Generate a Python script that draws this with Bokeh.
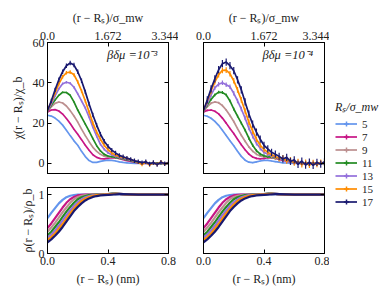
from bokeh.plotting import figure
from bokeh.models import (Range1d, LinearAxis, FixedTicker, Legend, LegendItem,
                          Label, ColumnDataSource, PrintfTickFormatter)
from bokeh.layouts import row, column
from bokeh.embed import file_html
from bokeh.resources import INLINE

# ---------------- data ----------------
sizes = ["5", "7", "9", "11", "13", "15", "17"]
colors = ["#6495ED", "#C71585", "#BC8F8F", "#228B22", "#9370DB", "#FF8C00", "#191970"]

x_chi = [0.0, 0.025, 0.05, 0.075, 0.1, 0.125, 0.15, 0.175, 0.2, 0.225, 0.25, 0.275,
         0.3, 0.325, 0.35, 0.375, 0.4, 0.425, 0.45, 0.475, 0.5, 0.525, 0.55, 0.575,
         0.6, 0.625, 0.65, 0.675, 0.7, 0.725, 0.75, 0.775, 0.8]

# beta*dmu = 1e-3
chi3_5 = [23.9, 23.5, 22.5, 21.0, 19.0, 16.5, 13.8, 11.2, 9.0, 6.0, 3.4, 1.4, 0.5, 0.5, 1.0, 1.4, 1.6, 1.5, 1.2, 0.8, 0.5, 0.3, 0.1, 0.0, 0.0, 0.0, 0.0, 0.0, 0.0, 0.0, 0.0, 0.0, 0.0]
chi3_7 = [25.5, 26.5, 26.7, 26.0, 24.5, 22.3, 19.8, 17.0, 14.5, 11.8, 9.0, 6.5, 4.3, 3.0, 2.4, 2.3, 2.6, 2.9, 2.8, 2.4, 1.9, 1.4, 1.0, 0.6, 0.3, 0.1, 0.0, 0.0, 0.0, 0.0, 0.0, 0.0, 0.0]
chi3_9 = [26.0, 28.0, 29.8, 30.5, 30.0, 28.5, 26.2, 23.5, 20.5, 17.0, 13.8, 10.8, 8.0, 6.0, 4.5, 3.6, 3.2, 3.1, 3.0, 2.7, 2.3, 1.8, 1.3, 0.9, 0.5, 0.3, 0.1, 0.0, 0.0, 0.0, 0.0, 0.0, 0.0]
chi3_11 = [26.0, 28.8, 31.5, 33.8, 35.3, 35.2, 33.8, 30.5, 26.5, 23.0, 19.5, 16.0, 12.3, 8.8, 6.2, 4.5, 3.7, 3.3, 3.0, 2.6, 2.2, 1.8, 1.3, 0.9, 0.5, 0.3, 0.2, 0.1, 0.0, 0.1, 0.0, 0.0, 0.0]
chi3_13 = [26.0, 29.5, 33.5, 37.0, 39.5, 40.3, 39.8, 37.8, 34.5, 31.0, 27.5, 23.0, 18.0, 13.5, 9.5, 7.0, 5.3, 4.3, 3.6, 3.0, 2.6, 2.1, 1.6, 1.1, 0.7, 0.3, 0.5, -0.2, 0.3, -0.3, 0.3, 0.0, 0.1]
chi3_15 = [26.3, 30.5, 35.0, 39.5, 43.0, 45.0, 45.3, 44.0, 40.5, 36.0, 31.0, 25.5, 20.0, 15.5, 12.0, 9.0, 6.8, 5.2, 4.2, 3.5, 3.0, 2.5, 1.8, 1.2, 0.6, -0.5, 0.7, -0.8, 0.4, -0.5, 0.8, -0.4, 0.5]
chi3_17 = [26.3, 31.0, 36.5, 41.5, 45.5, 48.5, 49.8, 48.8, 45.5, 41.0, 35.5, 29.5, 24.0, 19.0, 14.5, 11.0, 8.5, 6.6, 5.2, 4.0, 3.3, 2.6, 2.0, 1.3, 0.9, 0.4, 0.8, -0.3, 0.5, -0.6, 0.6, -0.2, 0.3]
err3 = [0.2, 0.25, 0.3, 0.4, 0.6, 0.9, 1.1]

# beta*dmu = 1e-4
chi4_5 = [23.9, 23.4, 22.4, 20.9, 18.9, 16.5, 13.9, 11.3, 8.8, 6.0, 3.5, 1.6, 0.6, 0.4, 0.8, 1.2, 1.5, 1.5, 1.2, 0.9, 0.6, 0.3, 0.2, 0.1, 0.0, 0.0, 0.0, 0.0, 0.0, 0.0, 0.0, 0.0, 0.0]
chi4_7 = [25.6, 26.3, 26.5, 25.9, 24.6, 22.5, 20.0, 17.3, 14.8, 12.0, 9.3, 6.8, 4.6, 3.2, 2.5, 2.3, 2.5, 2.8, 2.8, 2.5, 2.0, 1.5, 1.1, 0.7, 0.4, 0.2, 0.1, 0.0, 0.0, 0.0, 0.0, 0.0, 0.0]
chi4_9 = [26.0, 28.1, 29.9, 30.5, 30.1, 28.7, 26.5, 23.8, 20.8, 17.3, 14.0, 11.0, 8.2, 6.1, 4.6, 3.7, 3.3, 3.1, 2.9, 2.6, 2.3, 1.9, 1.4, 1.0, 0.6, 0.4, 0.2, 0.1, 0.0, 0.0, 0.0, 0.0, 0.0]
chi4_11 = [26.0, 29.0, 31.8, 34.0, 35.4, 35.2, 34.0, 31.0, 27.0, 23.5, 20.0, 16.5, 12.5, 9.0, 6.3, 4.6, 3.8, 3.4, 3.1, 2.8, 2.3, 1.9, 1.5, 1.0, 0.7, 0.4, 0.3, 0.2, 0.1, 0.0, 0.1, 0.0, 0.0]
chi4_13 = [26.0, 29.8, 34.0, 37.5, 39.3, 40.0, 39.0, 38.0, 34.8, 31.0, 27.0, 22.5, 17.5, 13.5, 10.0, 7.5, 5.5, 4.5, 3.5, 3.2, 2.3, 2.2, 1.2, 1.4, 0.3, 0.8, -0.3, 0.5, -0.4, 0.3, -0.2, 0.4, 0.0]
chi4_15 = [26.3, 31.0, 36.0, 40.5, 44.0, 46.2, 46.3, 44.5, 41.0, 36.5, 31.5, 26.0, 20.5, 16.0, 12.0, 9.0, 7.0, 5.5, 4.3, 3.5, 2.4, 2.8, 1.2, 1.8, 0.2, 0.9, -0.6, 0.5, -0.9, 0.4, -0.5, 0.6, 0.0]
chi4_17 = [26.3, 31.5, 37.0, 42.0, 46.5, 49.5, 50.3, 48.5, 46.0, 41.5, 36.5, 30.5, 24.5, 19.5, 15.5, 12.0, 9.0, 7.2, 5.5, 4.6, 3.5, 2.2, 3.0, 1.0, 1.8, -0.5, 1.2, -0.8, 0.6, -1.0, 0.5, -0.4, 0.8]
err4 = [0.3, 0.4, 0.5, 0.7, 1.1, 1.4, 1.8]

# density profiles
x_rho = [0.0, 0.025, 0.05, 0.075, 0.1, 0.125, 0.15, 0.175, 0.2, 0.225, 0.25, 0.275,
         0.3, 0.325, 0.35, 0.375, 0.4, 0.425, 0.45, 0.475, 0.5, 0.55, 0.6, 0.7, 0.8]
rho_5 = [0.60, 0.69, 0.77, 0.85, 0.91, 0.955, 0.98, 0.993, 0.998, 1.0, 1.0, 1.0, 1.0, 1.0, 1.0, 1.0, 1.005, 1.008, 1.01, 1.008, 1.005, 1.0, 1.0, 1.0, 1.0]
rho_7 = [0.43, 0.51, 0.60, 0.69, 0.78, 0.86, 0.92, 0.96, 0.985, 0.995, 1.0, 1.0, 1.0, 1.0, 1.0, 1.005, 1.01, 1.012, 1.015, 1.012, 1.008, 1.003, 1.0, 1.0, 1.0]
rho_9 = [0.37, 0.44, 0.52, 0.61, 0.70, 0.78, 0.86, 0.92, 0.96, 0.98, 0.99, 0.998, 1.0, 1.0, 1.0, 1.005, 1.01, 1.015, 1.015, 1.012, 1.008, 1.003, 1.0, 1.0, 1.0]
rho_11 = [0.31, 0.37, 0.45, 0.53, 0.62, 0.71, 0.79, 0.86, 0.92, 0.955, 0.975, 0.99, 0.995, 1.0, 1.0, 1.005, 1.01, 1.015, 1.015, 1.012, 1.008, 1.003, 1.0, 1.0, 1.0]
rho_13 = [0.27, 0.32, 0.39, 0.47, 0.56, 0.65, 0.73, 0.81, 0.87, 0.92, 0.955, 0.975, 0.99, 0.995, 1.0, 1.003, 1.008, 1.012, 1.014, 1.012, 1.008, 1.003, 1.0, 1.0, 1.0]
rho_15 = [0.23, 0.28, 0.34, 0.42, 0.50, 0.59, 0.68, 0.76, 0.83, 0.89, 0.93, 0.96, 0.98, 0.99, 0.995, 1.0, 1.005, 1.01, 1.012, 1.01, 1.007, 1.003, 1.0, 1.0, 1.0]
rho_17 = [0.19, 0.24, 0.30, 0.37, 0.45, 0.54, 0.63, 0.72, 0.79, 0.85, 0.90, 0.935, 0.96, 0.975, 0.985, 0.99, 0.995, 1.0, 1.005, 1.008, 1.008, 1.005, 1.0, 1.0, 1.0]

chi3 = [chi3_5, chi3_7, chi3_9, chi3_11, chi3_13, chi3_15, chi3_17]
chi4 = [chi4_5, chi4_7, chi4_9, chi4_11, chi4_13, chi4_15, chi4_17]
rhos = [rho_5, rho_7, rho_9, rho_11, rho_13, rho_15, rho_17]

x_ticks_nm = [0.0, 0.4, 0.8]
x_ticks_sigma = [0.0, 1.672, 3.344]
sigma_labels = {0.0: "0.0", 1.672: "1.672", 3.344: "3.344"}
chi_ticks = [0, 20, 40, 60]
rho_ticks = [0, 1]

FONT = "Liberation Serif"
FW = 121
TXT = "#222222"


def style_axis(ax, show_labels, size="12px"):
    ax.major_tick_in = 4
    ax.major_tick_out = 0
    ax.minor_tick_line_color = None
    ax.axis_line_color = "black"
    ax.major_tick_line_color = "black"
    ax.major_label_standoff = 3
    ax.major_label_text_font = FONT
    ax.axis_label_text_font = FONT
    ax.axis_label_text_font_style = "normal"
    ax.axis_label_text_color = TXT
    ax.axis_label_text_font_size = "12px"
    if show_labels:
        ax.major_label_text_font_size = size
        ax.major_label_text_color = TXT
    else:
        ax.major_label_text_font_size = "1px"
        ax.major_label_text_color = None


def make_panel(kind, left_col):
    top = kind == "chi"
    p = figure(frame_width=FW, frame_height=131 if top else 66,
               x_range=Range1d(0, 0.8),
               y_range=Range1d(-5, 60) if top else Range1d(0, 1.12),
               output_backend="svg", toolbar_location=None,
               min_border_left=47 if left_col else 25,
               min_border_right=10 if left_col else 5,
               min_border_top=42 if top else 7,
               min_border_bottom=7 if top else 50)
    p.grid.visible = False
    p.outline_line_color = "black"
    # bottom
    xb = p.xaxis[0]
    xb.ticker = FixedTicker(ticks=x_ticks_nm)
    xb.formatter = PrintfTickFormatter(format="%.1f")
    style_axis(xb, not top)
    if not top:
        xb.axis_label = "(r − Rₛ) (nm)"
        xb.axis_label_standoff = 4
    # left
    yl = p.yaxis[0]
    yl.ticker = FixedTicker(ticks=chi_ticks if top else rho_ticks)
    style_axis(yl, left_col)
    if left_col:
        yl.axis_label = "χ(r − Rₛ)/χ_b" if top else "ρ(r − Rₛ)/ρ_b"
        yl.axis_label_standoff = 5 if top else 1
    # right
    yr = LinearAxis(ticker=FixedTicker(ticks=chi_ticks if top else rho_ticks))
    style_axis(yr, False)
    p.add_layout(yr, "right")
    # above
    if top:
        p.extra_x_ranges = {"sig": Range1d(0, 3.344)}
        xa = LinearAxis(x_range_name="sig", ticker=FixedTicker(ticks=x_ticks_sigma),
                        major_label_overrides=sigma_labels)
        style_axis(xa, True)
        xa.axis_label = "(r − Rₛ)/σ_mw"
        xa.axis_label_standoff = 4
    else:
        xa = LinearAxis(ticker=FixedTicker(ticks=x_ticks_nm))
        style_axis(xa, False)
    p.add_layout(xa, "above")
    return p


f1 = make_panel("chi", True)
f2 = make_panel("chi", False)
f3 = make_panel("rho", True)
f4 = make_panel("rho", False)

for p, data, errs, txt in [(f1, chi3, err3, "βδμ =10⁻³"), (f2, chi4, err4, "βδμ =10⁻⁴")]:
    for ys, col, e in zip(data, colors, errs):
        src = ColumnDataSource(dict(x=x_chi, y=ys,
                                    lo=[v - e for v in ys], hi=[v + e for v in ys]))
        p.segment(x0="x", y0="lo", x1="x", y1="hi", source=src, line_color=col, line_width=1.2)
        p.line(x="x", y="y", source=src, line_color=col, line_width=1.7)
    p.add_layout(Label(x=0.725, y=54, text=txt, text_align="right", text_baseline="middle",
                       text_font=FONT, text_font_size="12.5px", text_font_style="italic",
                       text_color=TXT))

for p in (f3, f4):
    for ys, col in zip(rhos, colors):
        p.line(x=x_rho, y=ys, line_color=col, line_width=2.2)

# legend panel
leg = figure(width=53, height=303, x_range=Range1d(0, 1), y_range=Range1d(-5, 60),
             output_backend="svg", toolbar_location=None,
             min_border_left=0, min_border_right=0, min_border_top=0, min_border_bottom=0,
             x_axis_location=None, y_axis_location=None)
leg.grid.visible = False
leg.outline_line_color = None
items = []
for name, ys, col in zip(sizes, chi3, colors):
    src = ColumnDataSource(dict(x=x_chi, y=ys))
    r1 = leg.line(x="x", y="y", source=src, line_color=col, line_width=1.7, visible=False)
    r2 = leg.scatter(x="x", y="y", source=src, marker="cross", size=9, line_color=col,
                     line_width=1.5, visible=False)
    items.append(LegendItem(label=name, renderers=[r1, r2]))
legend = Legend(items=items, location=(6, 95), title="Rₛ/σ_mw",
                title_text_font=FONT, title_text_font_style="italic",
                title_text_font_size="12px", title_standoff=2, title_text_color=TXT,
                label_text_font=FONT, label_text_font_size="11px", label_text_color=TXT,
                glyph_width=22, glyph_height=13, label_height=13, spacing=0,
                label_standoff=5, padding=0, margin=0,
                border_line_color=None, background_fill_alpha=0,
                click_policy="none")
leg.add_layout(legend, "center")

layout = row(column(row(f1, f2), row(f3, f4)), leg)

open("out.html", "w").write(file_html(layout, INLINE))
